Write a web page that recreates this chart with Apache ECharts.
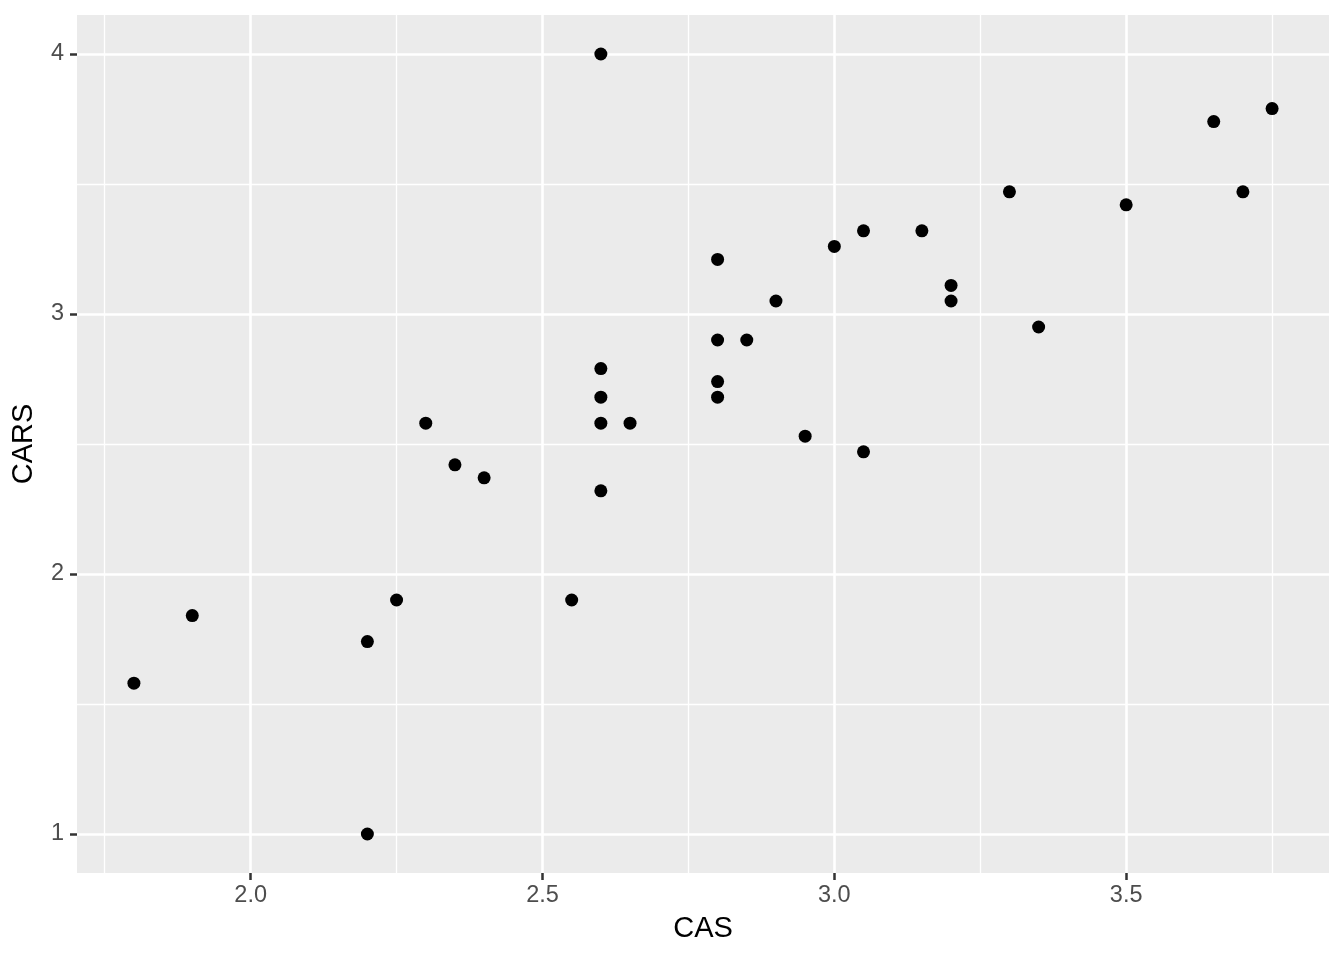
<!DOCTYPE html>
<html>
<head>
<meta charset="utf-8">
<script src="https://cdn.jsdelivr.net/npm/echarts@6/dist/echarts.min.js"></script>
<style>html,body{margin:0;padding:0;background:#fff;}#c{width:1344px;height:960px;}</style>
</head>
<body>
<div id="c"></div>
<script>
const cas = [1.8,1.9,2.2,2.2,2.25,2.3,2.35,2.4,2.55,2.6,2.6,2.6,2.6,2.6,2.65,2.8,2.8,2.8,2.8,2.85,2.9,2.95,3.0,3.05,3.05,3.15,3.2,3.2,3.3,3.35,3.5,3.65,3.7,3.75];
const cars = [1.58,1.84,1.74,1.0,1.9,2.58,2.42,2.37,1.9,4.0,2.79,2.68,2.58,2.32,2.58,3.21,2.9,2.74,2.68,2.9,3.05,2.53,3.26,3.32,2.47,3.32,3.11,3.05,3.47,2.95,3.42,3.74,3.47,3.79];
const xTicks = [2.0, 2.5, 3.0, 3.5];
const yTicks = [1, 2, 3, 4];
const xMinor = [1.75, 2.25, 2.75, 3.25, 3.75];
const yMinor = [1.5, 2.5, 3.5];
const xName = 'CAS';
const yName = 'CARS';

const points = cas.map((v, i) => [v, cars[i]]);
const MAJ = 2.6, MIN = 1.3;
const gridLines = [];
xMinor.forEach(v => gridLines.push({xAxis: v, lineStyle: {width: MIN}}));
yMinor.forEach(v => gridLines.push({yAxis: v, lineStyle: {width: MIN}}));
xTicks.forEach(v => gridLines.push({xAxis: v, lineStyle: {width: MAJ}}));
yTicks.forEach(v => gridLines.push({yAxis: v, lineStyle: {width: MAJ}}));

const chart = echarts.init(document.getElementById('c'), null, {renderer: 'canvas'});
const font = 'Liberation Sans, Arial, Helvetica, sans-serif';
chart.setOption({
  animation: false,
  grid: {left: 77, right: 15, top: 15, bottom: 87, show: true, backgroundColor: '#EBEBEB', borderWidth: 0},
  xAxis: {
    type: 'value', min: 1.7025, max: 3.8475,
    name: xName, nameLocation: 'middle', nameGap: 41,
    nameTextStyle: {color: '#000', fontSize: 29, fontFamily: font},
    axisLine: {show: false},
    axisTick: {show: true, customValues: xTicks, length: 7, lineStyle: {color: '#333333', width: 2.5}},
    axisLabel: {customValues: xTicks, color: '#4D4D4D', fontSize: 23.5, fontFamily: font, margin: 11,
      formatter: v => v.toFixed(1)},
    splitLine: {show: false}
  },
  yAxis: {
    type: 'value', min: 0.85, max: 4.15,
    name: yName, nameLocation: 'middle', nameGap: 39,
    nameTextStyle: {color: '#000', fontSize: 29, fontFamily: font},
    axisLine: {show: false},
    axisTick: {show: true, customValues: yTicks, length: 7, lineStyle: {color: '#333333', width: 2.5}},
    axisLabel: {customValues: yTicks, color: '#4D4D4D', fontSize: 23.5, fontFamily: font, margin: 13,
      formatter: v => String(Math.round(v))},
    splitLine: {show: false}
  },
  series: [
    {
      type: 'line', data: [], z: 1, silent: true,
      markLine: {
        z: 1, silent: true, symbol: ['none', 'none'], animation: false,
        label: {show: false},
        lineStyle: {color: '#FFFFFF', type: 'solid'},
        emphasis: {disabled: true},
        data: gridLines
      }
    },
    {
      type: 'scatter', z: 10, data: points, symbol: 'circle', symbolSize: 13,
      itemStyle: {color: '#000000', opacity: 1}
    }
  ]
});
</script>
</body>
</html>
